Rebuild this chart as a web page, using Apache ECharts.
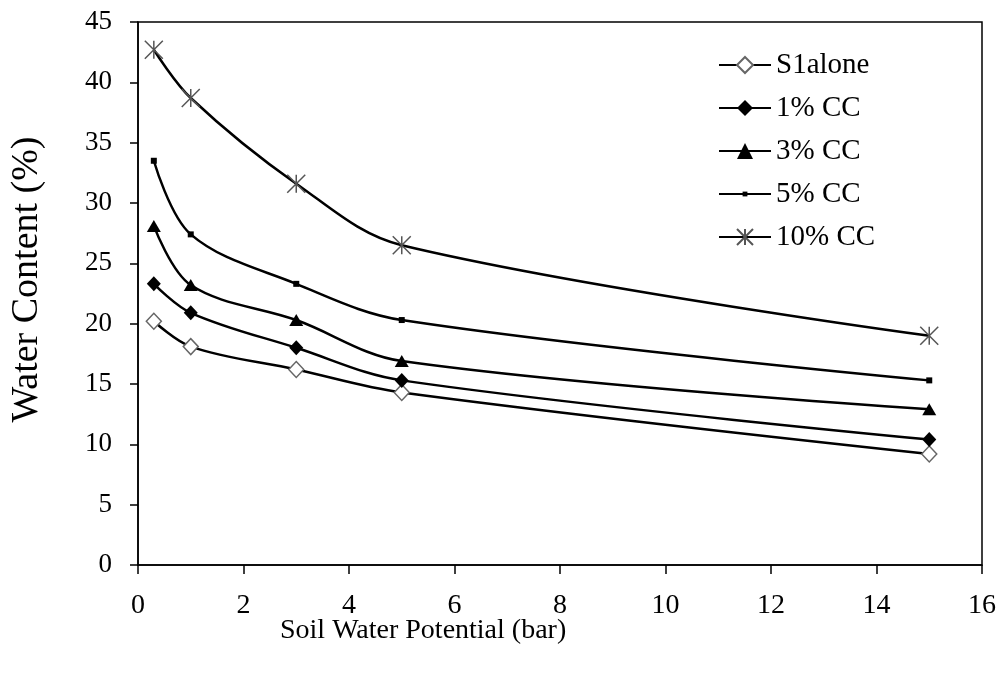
<!DOCTYPE html>
<html><head><meta charset="utf-8">
<script src="https://cdn.jsdelivr.net/npm/echarts@6/dist/echarts.min.js"></script>
<style>html,body{margin:0;padding:0;background:#fff}#c{width:1002px;height:673px}</style>
</head><body><div id="c"></div>
<script>
var potentials = [0.3, 1, 3, 5, 15];
var seriesNames = ['S1alone', '1% CC', '3% CC', '5% CC', '10% CC'];
var s1alone = [20.2, 18.1, 16.2, 14.3, 9.2];
var cc1 = [23.3, 20.9, 18.0, 15.3, 10.4];
var cc3 = [28.1, 23.2, 20.3, 16.9, 12.9];
var cc5 = [33.5, 27.4, 23.3, 20.3, 15.3];
var cc10 = [42.7, 38.7, 31.6, 26.5, 19.0];
var xTicks = [0, 2, 4, 6, 8, 10, 12, 14, 16];
var yTicks = [0, 5, 10, 15, 20, 25, 30, 35, 40, 45];

var FONT = '"Liberation Serif", "Times New Roman", serif';
function pts(v){ return potentials.map(function(x,i){ return [x, v[i]]; }); }
var starPath = 'path://M0,0L20,20M20,0L0,20M10,0L10,20';
var smallSquare = 'path://M0,0M20,20M7,7L13,7L13,13L7,13Z';
var styles = [
  {symbol:'diamond', size:[15,16], item:{color:'#fff', borderColor:'#666', borderWidth:1.5}},
  {symbol:'diamond', size:[14,15], item:{color:'#000', borderColor:'#000', borderWidth:0}},
  {symbol:'triangle', size:[14,12], item:{color:'#000', borderColor:'#000', borderWidth:0}},
  {symbol:smallSquare, size:[20,20], item:{color:'#000', borderColor:'#000', borderWidth:0}},
  {symbol:starPath, size:[18,18], item:{color:'none', borderColor:'#555', borderWidth:1.5}}
];
var data = [s1alone, cc1, cc3, cc5, cc10];
var series = data.map(function(v, i){
  return {
    name: seriesNames[i], type:'line', data: pts(v), smooth: 0.35,
    symbol: styles[i].symbol, symbolSize: styles[i].size, showAllSymbol:true,
    itemStyle: styles[i].item,
    lineStyle: {color:'#000', width:2.5},
    z: 2
  };
});

var chart = echarts.init(document.getElementById('c'));
chart.setOption({
  animation:false,
  backgroundColor:'#fff',
  grid:{left:138, top:22, right:20, bottom:108, show:true, borderColor:'#000', borderWidth:1.5},
  title:{text:'Soil Water Potential (bar)', left:275, top:612,
    textStyle:{fontFamily:FONT, fontSize:28, fontWeight:'normal', color:'#000'}},
  legend:{
    data: seriesNames, orient:'vertical', left:713, top:45, itemGap:13,
    itemWidth:52, itemHeight:20,
    textStyle:{fontFamily:FONT, fontSize:29, lineHeight:30, color:'#000', padding:[0,0,0,0]}
  },
  xAxis:{
    type:'value', min:xTicks[0], max:xTicks[xTicks.length-1], interval:2,
    axisLine:{lineStyle:{color:'#000', width:1.5}},
    axisTick:{show:true, length:9, lineStyle:{color:'#000', width:1.5}},
    splitLine:{show:false},
    axisLabel:{fontFamily:FONT, fontSize:28, color:'#000', margin:27}
  },
  yAxis:{
    type:'value', min:yTicks[0], max:yTicks[yTicks.length-1], interval:5,
    name:'Water Content (%)', nameLocation:'middle', nameGap:92, nameRotate:90,
    nameTextStyle:{fontFamily:FONT, fontSize:38, color:'#000', padding:[0,0,0,28]},
    axisLine:{show:true, lineStyle:{color:'#000', width:1.5}},
    axisTick:{show:true, length:8, lineStyle:{color:'#000', width:1.5}},
    splitLine:{show:false},
    axisLabel:{fontFamily:FONT, fontSize:27, color:'#000', margin:26}
  },
  series: series
});
</script></body></html>
